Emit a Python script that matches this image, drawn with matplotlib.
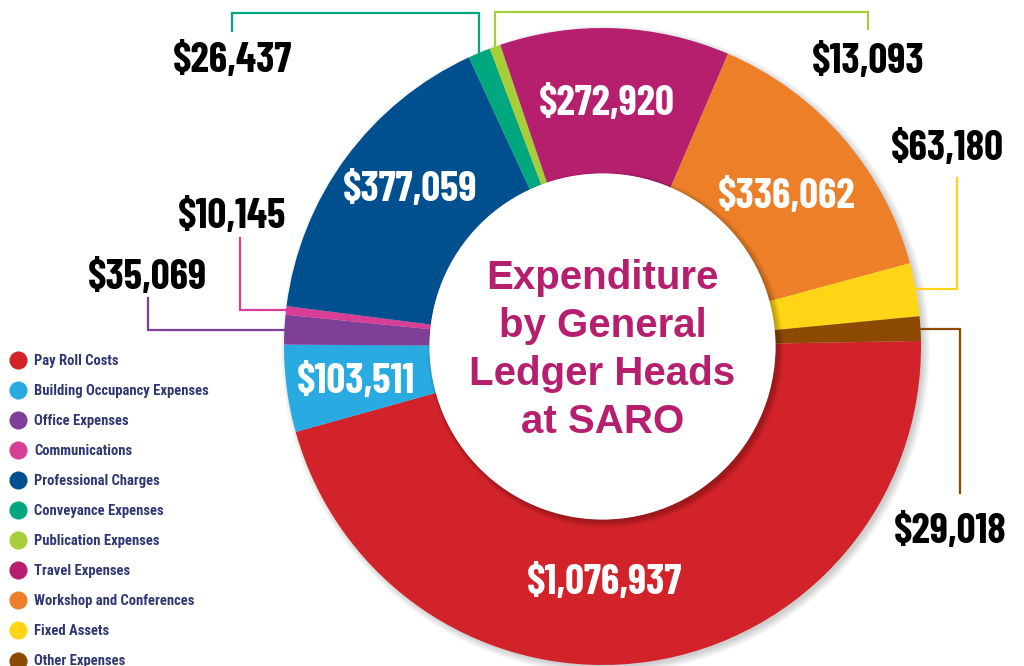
import numpy as np
import matplotlib
matplotlib.use("Agg")
import matplotlib.pyplot as plt
from matplotlib.patches import Circle

categories = ["Pay Roll Costs", "Building Occupancy Expenses", "Office Expenses",
              "Communications", "Professional Charges", "Conveyance Expenses",
              "Publication Expenses", "Travel Expenses", "Workshop and Conferences",
              "Fixed Assets", "Other Expenses"]
values = [1076937, 103511, 35069, 10145, 377059, 26437, 13093, 272920, 336062, 63180, 29018]
colors = ["#D2232A", "#29ABE2", "#7E3F98", "#D93E96", "#00508F", "#00A77F",
          "#A6CE39", "#B61F6E", "#EC7F27", "#FFD516", "#8B4A00"]
title_lines = ["Expenditure", "by General", "Ledger Heads", "at SARO"]

# label placement (pixel coords, y down)
inside = {0: (605, 583), 1: (356, 382), 4: (410, 190), 7: (607, 104), 8: (787, 197)}
outside = {2: (147, 278), 3: (232, 217), 5: (232, 61), 6: (868, 62), 9: (947, 149), 10: (950, 532)}

num_font = ["Barlow Condensed", "Roboto Condensed", "DejaVu Sans"]
leg_font = ["Roboto Condensed", "DejaVu Sans"]
navy = "#2E3772"
magenta = "#B51F6E"

fig = plt.figure(figsize=(10.24, 6.66), dpi=100)
ax = fig.add_axes([0, 0, 1, 1])

cx, cy, R, r_in = 602.5, 346.5, 318.5, 173

# soft drop shadow behind ring
for k in range(8):
    ax.add_patch(Circle((cx + 3, cy + 3), R + 6 - k, color="black", alpha=0.025, lw=0, zorder=0))

wedges, _ = ax.pie(values, colors=colors, startangle=-1, counterclock=True,
                   radius=R, center=(cx, cy),
                   wedgeprops=dict(width=R - r_in, linewidth=0))
for w in wedges:
    w.set_zorder(1)

# shadow of centre disc on the ring, then the disc
for k in range(8):
    ax.add_patch(Circle((cx + 3, cy + 3), r_in + 5 - k * 0.8, color="black", alpha=0.03, lw=0, zorder=2))
ax.add_patch(Circle((cx, cy), r_in, color="white", lw=0, zorder=3))

ax.set_xlim(0, 1024)
ax.set_ylim(666, 0)
ax.set_aspect("equal")
ax.axis("off")

for i, (x, y) in inside.items():
    ax.text(x, y, f"${values[i]:,}", color="white", fontsize=30, fontweight="bold",
            family=num_font, ha="center", va="center", zorder=5)

# leader lines from the outer edge of small slices
for i, (x, y) in outside.items():
    ax.text(x, y, f"${values[i]:,}", color="black", fontsize=30, fontweight="bold",
            family=num_font, ha="center", va="center", zorder=5)
    w = wedges[i]
    mid = np.deg2rad((w.theta1 + w.theta2) / 2)
    px, py = cx + R * np.cos(mid), cy + R * np.sin(mid)
    if i in (5, 6):
        top = 13 if i == 5 else 12
        pts = [(px, py), (px, top), (x, top), (x, 31 if i == 5 else 29)]
    elif i in (9, 10):
        vx = 957 if i == 9 else 960
        end = 178 if i == 9 else 493
        pts = [(px, py), (vx, py), (vx, end)]
    else:
        vx = 240 if i == 3 else 148
        end = 238 if i == 3 else 298
        pts = [(px, py), (vx, py), (vx, end)]
    xs, ys = zip(*pts)
    ax.plot(xs, ys, color=colors[i], lw=1.6, solid_joinstyle="miter", zorder=4)

for j, line in enumerate(title_lines):
    ax.text(cx, 278 + 48 * j, line, color=magenta, fontsize=29, fontweight="bold",
            family=["Liberation Sans", "DejaVu Sans"], ha="center", va="center", zorder=6)

# legend
for j, (name, c) in enumerate(zip(categories, colors)):
    y = 360 + 30.05 * j
    ax.scatter([18], [y], s=170, color=c, lw=0, zorder=5)
    ax.text(34, y + 1, name, color=navy, fontsize=10.5, fontweight="bold",
            family=leg_font, ha="left", va="center", zorder=5)

fig.savefig("out.png", dpi=100)
